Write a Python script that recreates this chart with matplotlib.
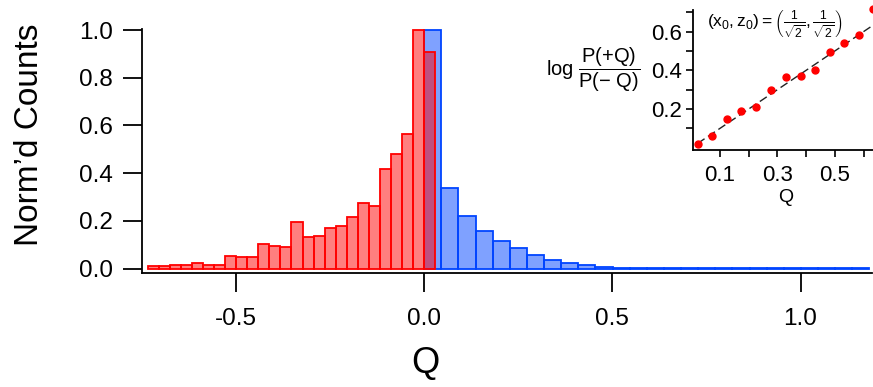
import matplotlib
matplotlib.use("Agg")
import matplotlib.pyplot as plt
import numpy as np

plt.rcParams["font.family"] = "Liberation Sans"
plt.rcParams["mathtext.fontset"] = "custom"
plt.rcParams["mathtext.rm"] = "Liberation Sans"
plt.rcParams["mathtext.it"] = "Liberation Sans:italic"
plt.rcParams["mathtext.bf"] = "Liberation Sans:bold"

#
# Data
#
# negative-Q histogram (red), bins of equal width starting at red_start
red_start, red_width = -0.735, 0.0294
red_heights = [0.012, 0.010, 0.014, 0.014, 0.024, 0.017, 0.017, 0.052, 0.050,
               0.050, 0.103, 0.096, 0.091, 0.196, 0.131, 0.139, 0.170, 0.177,
               0.216, 0.276, 0.262, 0.416, 0.482, 0.563, 1.000, 0.907]

# positive-Q histogram (blue)
blue_start, blue_width = 0.0, 0.0455
blue_heights = [1.000, 0.340, 0.220, 0.159, 0.117, 0.086, 0.056, 0.035, 0.022,
                0.014, 0.006, 0.004, 0.004, 0.004, 0.004, 0.004, 0.004, 0.004,
                0.004, 0.004, 0.004, 0.004, 0.004, 0.004, 0.004, 0.004]

# inset: log ratio of P(+Q)/P(-Q)
inset_q = [0.022, 0.073, 0.124, 0.174, 0.226, 0.276, 0.330, 0.381, 0.432,
           0.483, 0.531, 0.583, 0.632]
inset_logratio = [0.020, 0.061, 0.150, 0.190, 0.210, 0.299, 0.364, 0.373,
                  0.403, 0.496, 0.541, 0.582, 0.719]
fit_slope, fit_intercept = 1.0, 0.0

#
# Plot
#
fig = plt.figure(figsize=(8.73, 3.87), dpi=100)
ax = fig.add_axes([0.1627, 0.2946, 0.8362, 0.6297])

red_left = red_start + red_width * np.arange(len(red_heights))
blue_left = blue_start + blue_width * np.arange(len(blue_heights))

ax.bar(blue_left, blue_heights, width=blue_width, align="edge",
       facecolor=(0.0, 0.27, 1.0, 0.5), edgecolor="#0044ff", linewidth=1.3)
ax.bar(red_left, red_heights, width=red_width, align="edge",
       facecolor=(1.0, 0.0, 0.0, 0.5), edgecolor="#ff0000", linewidth=1.3)

ax.set_xlim(-0.75, 1.19)
ax.set_ylim(-0.018, 1.003)
ax.set_xticks([-0.5, 0.0, 0.5, 1.0])
ax.set_xticklabels(["-0.5", "0.0", "0.5", "1.0"])
ax.set_yticks([0.0, 0.2, 0.4, 0.6, 0.8, 1.0])
ax.spines["top"].set_visible(False)
ax.spines["right"].set_visible(False)
for s in ("left", "bottom"):
    ax.spines[s].set_linewidth(1.3)
ax.tick_params(axis="both", direction="out", length=14, width=1.3,
               labelsize=17.5)
ax.tick_params(axis="x", pad=11)
ax.tick_params(axis="y", pad=7)

ax.set_xlabel("Q", fontsize=26)
ax.xaxis.set_label_coords(0.388, -0.30)
ax.set_ylabel("Norm\u2019d Counts", fontsize=24)
ax.yaxis.set_label_coords(-0.133, 0.566)

# inset
ax_in = fig.add_axes([0.7942, 0.6124, 0.2058, 0.3618])
ax_in.plot(inset_q, inset_logratio, "o", color="#ff0000", markersize=5,
           clip_on=False, zorder=3)
q_line = np.array([inset_q[0], 0.64])
ax_in.plot(q_line, fit_slope * q_line + fit_intercept, "--", color="#222222",
           linewidth=1.0, dashes=(6, 3), zorder=2)

ax_in.set_xlim(0.007, 0.633)
ax_in.set_ylim(-0.012, 0.712)
ax_in.set_xticks([0.1, 0.3, 0.5])
ax_in.set_xticklabels(["0.1", "0.3", "0.5"])
ax_in.set_xticks([0.2, 0.4, 0.6], minor=True)
ax_in.set_yticks([0.2, 0.4, 0.6])
ax_in.set_yticklabels(["0.2", "0.4", "0.6"])
ax_in.set_yticks([0.1, 0.3, 0.5, 0.7], minor=True)
ax_in.spines["top"].set_visible(False)
ax_in.spines["right"].set_visible(False)
for s in ("left", "bottom"):
    ax_in.spines[s].set_linewidth(1.3)
ax_in.tick_params(axis="both", which="both", direction="out", length=5,
                  width=1.2, labelsize=16)
ax_in.tick_params(axis="x", pad=6)
ax_in.tick_params(axis="y", pad=3)

ax_in.set_xlabel("Q", fontsize=14)
ax_in.xaxis.set_label_coords(0.516, -0.28)
ax_in.set_ylabel(r"$\log\,\dfrac{\mathrm{P(+Q)}}{\mathrm{P(-\ Q)}}$",
                 fontsize=14.5, rotation=0, ha="right", va="center")
ax_in.yaxis.set_label_coords(-0.297, 0.571)
ax_in.text(0.456, 0.893,
           r"$(\mathrm{x_0,z_0}) = \left(\frac{1}{\sqrt{2}},\frac{1}{\sqrt{2}}\right)$",
           transform=ax_in.transAxes, ha="center", va="center", fontsize=12.5)

plt.savefig("out.png", dpi=100)
